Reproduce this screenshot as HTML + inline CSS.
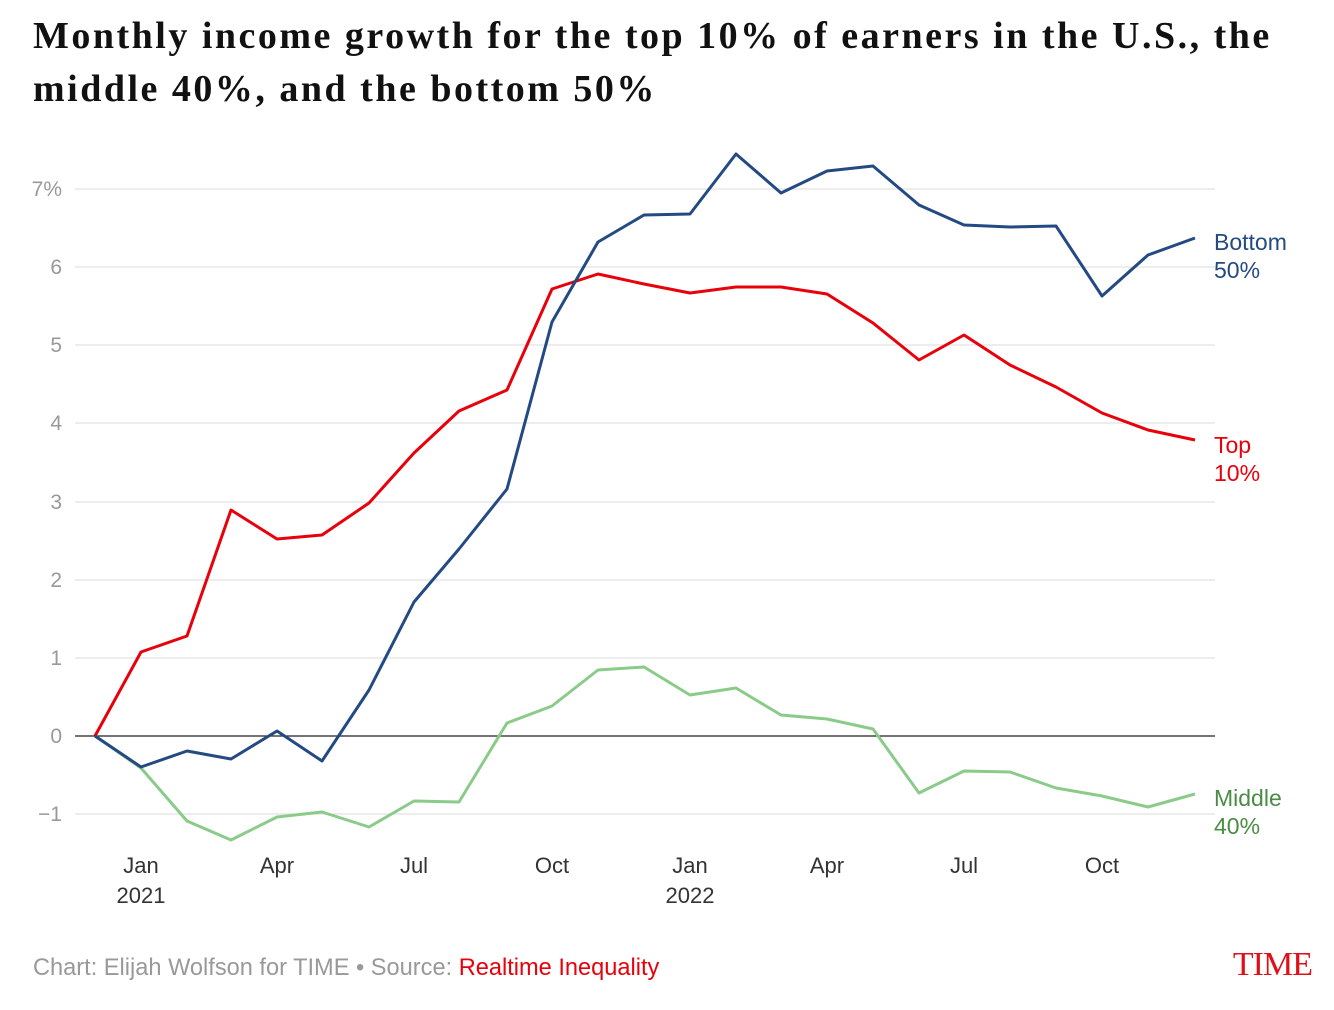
<!DOCTYPE html>
<html><head><meta charset="utf-8"><style>
body{margin:0;background:#fff;width:1334px;height:1010px;overflow:hidden}
.t{position:absolute;left:33px;top:10px;font:bold 38px/53px "Liberation Serif",serif;color:#111;letter-spacing:2.5px;white-space:nowrap}
</style></head><body>
<div class="t">Monthly income growth for the top 10% of earners in the U.S., the<br>middle 40%, and the bottom 50%</div>
<svg width="1334" height="1010" style="position:absolute;left:0;top:0" font-family="Liberation Sans, sans-serif">
<g stroke="#e2e2e2" stroke-width="1.3">
<line x1="75" x2="1215" y1="189" y2="189"/><line x1="75" x2="1215" y1="267" y2="267"/>
<line x1="75" x2="1215" y1="345" y2="345"/><line x1="75" x2="1215" y1="423" y2="423"/>
<line x1="75" x2="1215" y1="502" y2="502"/><line x1="75" x2="1215" y1="580" y2="580"/>
<line x1="75" x2="1215" y1="658" y2="658"/><line x1="75" x2="1215" y1="814" y2="814"/>
</g>
<line x1="75" x2="1215" y1="736" y2="736" stroke="#222" stroke-width="1.3"/>
<g fill="#999" font-size="21" text-anchor="end">
<text x="62" y="196">7%</text><text x="62" y="274">6</text><text x="62" y="352">5</text>
<text x="62" y="430">4</text><text x="62" y="509">3</text><text x="62" y="587">2</text>
<text x="62" y="665">1</text><text x="62" y="743">0</text><text x="62" y="821">−1</text>
</g>
<g fill="#333" font-size="22" text-anchor="middle">
<text x="141" y="873">Jan</text><text x="141" y="903">2021</text><text x="277" y="873">Apr</text>
<text x="414" y="873">Jul</text><text x="552" y="873">Oct</text><text x="690" y="873">Jan</text>
<text x="690" y="903">2022</text><text x="827" y="873">Apr</text><text x="964" y="873">Jul</text><text x="1102" y="873">Oct</text>
</g>
<g fill="none" stroke-width="3" stroke-linejoin="round">
<polyline stroke="#8bcb8a" points="95,736 141,768 187,821 231,840 277,817 322,812 369,827 414,801 459,802 507,723 552,706 598,670 644,667 690,695 736,688 781,715 827,719 873,729 919,793 964,771 1010,772 1056,788 1102,796 1148,807 1195,794"/>
<polyline stroke="#e8000b" points="95,736 141,652 187,636 231,510 277,539 322,535 369,503 414,453 459,411 507,390 552,289 598,274 644,284 690,293 736,287 781,287 827,294 873,323 919,360 964,335 1010,365 1056,387 1102,413 1148,430 1195,440"/>
<polyline stroke="#234a82" points="95,736 141,767 187,751 231,759 277,731 322,761 369,690 414,602 459,549 507,489 552,322 598,242 644,215 690,214 736,154 781,193 827,171 873,166 919,205 964,225 1010,227 1056,226 1102,296 1148,255 1195,238"/>
</g>
<g font-size="23">
<text x="1214" y="250" fill="#234a82">Bottom</text><text x="1214" y="278" fill="#234a82">50%</text>
<text x="1214" y="453" fill="#e8000b">Top</text><text x="1214" y="481" fill="#e8000b">10%</text>
<text x="1214" y="806" fill="#4a8c46">Middle</text><text x="1214" y="834" fill="#4a8c46">40%</text>
</g>
<text x="33" y="975" font-size="23.6" fill="#999">Chart: Elijah Wolfson for TIME • Source: <tspan fill="#e8000b">Realtime Inequality</tspan></text>
<text x="1312" y="975" font-size="34" fill="#e0101a" text-anchor="end" font-family="Liberation Serif, serif" letter-spacing="-1">TIME</text>
</svg>
</body></html>
